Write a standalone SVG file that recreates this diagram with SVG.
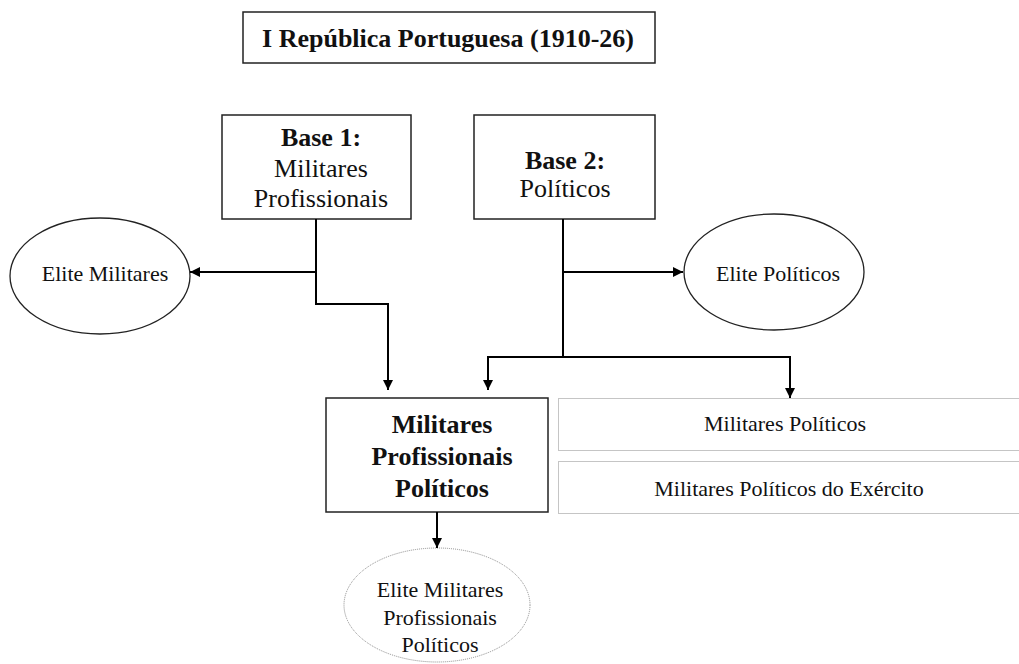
<svg xmlns="http://www.w3.org/2000/svg" width="1019" height="664" viewBox="0 0 1019 664">
  <style>
    text { font-family: "Liberation Serif", "Times New Roman", serif; fill: #111; }
    .t26 { font-size: 26px; }
    .t22 { font-size: 22px; }
    .b { font-weight: bold; }
    .box { fill: #fff; stroke: #222; stroke-width: 1.5; }
    .oval { fill: #fff; stroke: #222; stroke-width: 1.3; }
    .dot { fill: #fff; stroke: #8a8a8a; stroke-width: 1; stroke-dasharray: 1 1; }
    .wire { fill: none; stroke: #000; stroke-width: 2; }
  </style>
  <defs>
    <marker id="arrow" viewBox="0 0 10 10" refX="10" refY="5" markerWidth="10" markerHeight="10" markerUnits="userSpaceOnUse" orient="auto">
      <path d="M0,0 L10,5 L0,10 Z" fill="#000"/>
    </marker>
  </defs>
  <rect width="1019" height="664" fill="#fff"/>

  <g id="title">
    <rect class="box" x="243" y="12" width="412" height="51"/>
    <text class="t26 b" x="448" y="47" text-anchor="middle">I República Portuguesa (1910-26)</text>
  </g>

  <g id="base1">
    <rect class="box" x="222" y="115" width="189" height="104"/>
    <text class="t26" x="321" text-anchor="middle"><tspan class="b" x="321" y="146">Base 1:</tspan><tspan x="321" y="177">Militares</tspan><tspan x="321" y="207">Profissionais</tspan></text>
  </g>

  <g id="base2">
    <rect class="box" x="474" y="115" width="181" height="104"/>
    <text class="t26" x="565" text-anchor="middle"><tspan class="b" x="565" y="169">Base 2:</tspan><tspan x="565" y="197">Políticos</tspan></text>
  </g>

  <g id="elite-militares">
    <ellipse class="oval" cx="100" cy="276" rx="90" ry="58"/>
    <text class="t22" x="105" y="281" text-anchor="middle">Elite Militares</text>
  </g>

  <g id="elite-politicos">
    <ellipse class="oval" cx="774" cy="272" rx="90" ry="58"/>
    <text class="t22" x="778" y="281" text-anchor="middle">Elite Políticos</text>
  </g>

  <g id="militares-profissionais-politicos">
    <rect class="box" x="326" y="398" width="222" height="114"/>
    <text class="t26 b" text-anchor="middle"><tspan x="442" y="433">Militares</tspan><tspan x="442" y="465">Profissionais</tspan><tspan x="442" y="497">Políticos</tspan></text>
  </g>

  <g id="militares-politicos">
    <rect class="dot" x="558.5" y="398.5" width="464" height="52"/>
    <text class="t22" x="785" y="431" text-anchor="middle">Militares Políticos</text>
  </g>

  <g id="militares-politicos-exercito">
    <rect class="dot" x="558.5" y="461.5" width="464" height="52"/>
    <text class="t22" x="789" y="496" text-anchor="middle">Militares Políticos do Exército</text>
  </g>

  <g id="elite-mpp">
    <ellipse class="dot" cx="437" cy="605" rx="93" ry="57"/>
    <text class="t22" text-anchor="middle"><tspan x="440" y="597">Elite Militares</tspan><tspan x="440" y="625">Profissionais</tspan><tspan x="440" y="652">Políticos</tspan></text>
  </g>

  <g id="connectors">
    <!-- Base 1 branches -->
    <path class="wire" d="M316,219 V304 H388 V390" marker-end="url(#arrow)"/>
    <path class="wire" d="M316,272 H190" marker-end="url(#arrow)"/>
    <!-- Base 2 trunk and branches -->
    <path class="wire" d="M563,219 V272" stroke-width="3.2"/>
    <path class="wire" d="M563,272 H683" marker-end="url(#arrow)"/>
    <path class="wire" d="M563,271 V357"/>
    <path class="wire" d="M563,357 H488 V390" marker-end="url(#arrow)"/>
    <path class="wire" d="M563,357 H790 V398" marker-end="url(#arrow)"/>
    <!-- down to the elite ellipse -->
    <path class="wire" d="M437,512 V548" marker-end="url(#arrow)"/>
  </g>
</svg>
